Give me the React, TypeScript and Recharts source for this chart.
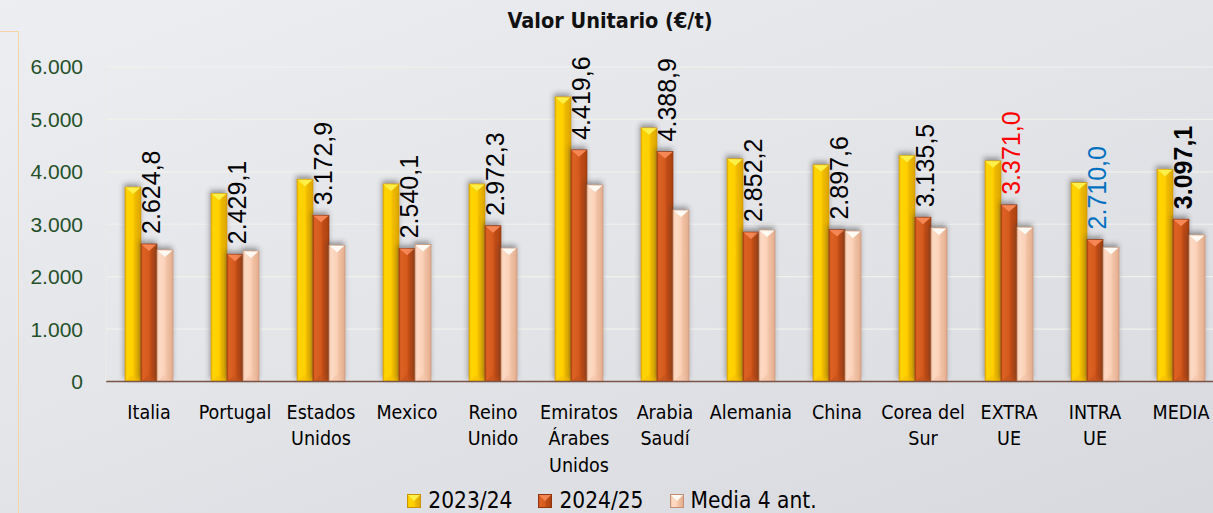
import { BarChart, Bar, XAxis, YAxis, CartesianGrid, Legend, LabelList } from "recharts";

const categories = [
  "Italia",
  "Portugal",
  "Estados Unidos",
  "Mexico",
  "Reino Unido",
  "Emiratos Árabes Unidos",
  "Arabia Saudí",
  "Alemania",
  "China",
  "Corea del Sur",
  "EXTRA UE",
  "INTRA UE",
  "MEDIA",
];
const tickLabels = [
  ["Italia"],
  ["Portugal"],
  ["Estados", "Unidos"],
  ["Mexico"],
  ["Reino", "Unido"],
  ["Emiratos", "Árabes", "Unidos"],
  ["Arabia", "Saudí"],
  ["Alemania"],
  ["China"],
  ["Corea del", "Sur"],
  ["EXTRA", "UE"],
  ["INTRA", "UE"],
  ["MEDIA"],
];
const v2324 = [3710, 3590, 3860, 3770, 3770, 5430, 4840, 4250, 4135, 4315, 4210, 3795, 4050];
const v2425 = [2624.8, 2429.1, 3172.9, 2540.1, 2972.3, 4419.6, 4388.9, 2852.2, 2897.6, 3135.5, 3371.0, 2710.0, 3097.1];
const vMedia4 = [2510, 2490, 2600, 2615, 2545, 3750, 3270, 2890, 2870, 2930, 2945, 2560, 2795];
const yTicks = [0, 1000, 2000, 3000, 4000, 5000, 6000];
const seriesNames = ["2023/24", "2024/25", "Media 4 ant."];

const data = categories.map((name, i) => ({
  name,
  a: v2324[i],
  b: v2425[i],
  c: vMedia4[i],
}));

// label colours for the highlighted categories
const labelColor: Record<string, string> = { "EXTRA UE": "#ff0000", "INTRA UE": "#0070c0" };
const labelBold: Record<string, boolean> = { MEDIA: true };

const palette = [
  { id: "gold", top: "#fff04a", bottom: "#f5c000", edge: "#c99400" },
  { id: "rust", top: "#f58654", bottom: "#c4501a", edge: "#8e3510" },
  { id: "peach", top: "#fffaf4", bottom: "#f3c2a6", edge: "#c18f74" },
];

function fmtEs(v: number, dec: number) {
  const [i, d] = v.toFixed(dec).split(".");
  const int = i.replace(/\B(?=(\d{3})+(?!\d))/g, ".");
  return d ? `${int},${d}` : int;
}

const makeShape = (k: number) => (props: any) => {
  const { x, y, width, height } = props;
  if (!height || height <= 0) return <g />;
  const p = palette[k];
  const t = Math.min(width / 2, 7);
  return (
    <g filter="url(#barShadow)">
      <rect x={x} y={y} width={width} height={height} fill={`url(#grad-${p.id})`} stroke={p.edge} strokeWidth={0.6} />
      <polygon points={`${x + 0.5},${y + 0.5} ${x + width - 0.5},${y + 0.5} ${x + width / 2},${y + t}`} fill={p.top} />
      <polygon
        points={`${x + 0.5},${y + height} ${x + width - 0.5},${y + height} ${x + width / 2},${y + height - t}`}
        fill={p.bottom}
        opacity={0.6}
      />
    </g>
  );
};

const RotLabel = (props: any) => {
  const { x, y, width, value, index } = props;
  const name = categories[index];
  const cx = x + width / 2 + 2;
  const cy = y - 10;
  return (
    <text
      x={cx}
      y={cy}
      transform={`rotate(-90, ${cx}, ${cy})`}
      textAnchor="start"
      dominantBaseline="central"
      fontFamily="'Liberation Sans', Arial, sans-serif"
      fontSize={25}
      fontWeight={labelBold[name] ? 700 : 400}
      fill={labelColor[name] || "#000"}
    >
      {fmtEs(value, 1)}
    </text>
  );
};

const CatTick = (props: any) => {
  const { x, y, payload } = props;
  const lines = tickLabels[payload.index] || [payload.value];
  return (
    <text
      x={x}
      y={y + 37}
      textAnchor="middle"
      fontFamily="'DejaVu Sans Condensed', 'DejaVu Sans', sans-serif"
      fontSize={19.5}
      fill="#000"
    >
      {lines.map((l: string, i: number) => (
        <tspan key={i} x={x} dy={i === 0 ? 0 : 26.5}>
          {l}
        </tspan>
      ))}
    </text>
  );
};

const LegendBox = () => (
  <div
    style={{
      height: 26,
      lineHeight: "26px",
      display: "flex",
      justifyContent: "center",
      alignItems: "center",
      gap: 26,
      fontFamily: "'DejaVu Sans Condensed', 'DejaVu Sans', sans-serif",
      fontSize: 22.5,
      color: "#000",
    }}
  >
    {seriesNames.map((s, i) => (
      <span key={s} style={{ display: "flex", alignItems: "center" }}>
        <svg width={14} height={14} style={{ marginRight: 7, marginTop: 2 }}>
          <rect x={0.5} y={0.5} width={13} height={13} fill={`url(#grad-${palette[i].id})`} stroke={palette[i].edge} />
          <polygon points="1,1 13,1 7,7" fill={palette[i].top} />
        </svg>
        {s}
      </span>
    ))}
  </div>
);

export default function App() {
  return (
    <div
      style={{
        position: "fixed",
        left: 0,
        top: 0,
        width: 1213,
        height: 513,
        overflow: "hidden",
        background: "linear-gradient(160deg, #eceef1 0%, #e3e4e8 50%, #d8d9de 100%)",
      }}
    >
      <svg width={0} height={0} style={{ position: "absolute" }}>
        <defs>
          {palette.map((p) => (
            <linearGradient key={p.id} id={`grad-${p.id}`} x1="0" y1="0" x2="1" y2="0">
              {p.id === "gold" && (
                <>
                  <stop offset="0%" stopColor="#e9b200" />
                  <stop offset="12%" stopColor="#ffd500" />
                  <stop offset="50%" stopColor="#ffcf00" />
                  <stop offset="60%" stopColor="#f1bd00" />
                  <stop offset="100%" stopColor="#dca500" />
                </>
              )}
              {p.id === "rust" && (
                <>
                  <stop offset="0%" stopColor="#b9481a" />
                  <stop offset="12%" stopColor="#dd6224" />
                  <stop offset="50%" stopColor="#d45a1d" />
                  <stop offset="60%" stopColor="#c24d17" />
                  <stop offset="100%" stopColor="#a9410f" />
                </>
              )}
              {p.id === "peach" && (
                <>
                  <stop offset="0%" stopColor="#e8b496" />
                  <stop offset="12%" stopColor="#fddac5" />
                  <stop offset="50%" stopColor="#fbd1b8" />
                  <stop offset="60%" stopColor="#f3c3a6" />
                  <stop offset="100%" stopColor="#e2ac8d" />
                </>
              )}
            </linearGradient>
          ))}
          <filter id="barShadow" x="-50%" y="-10%" width="200%" height="120%">
            <feDropShadow dx={-1} dy={-3} stdDeviation={2.5} floodColor="#333" floodOpacity={0.45} />
          </filter>
        </defs>
      </svg>

      <div
        style={{
          position: "absolute",
          left: 0,
          top: 31,
          width: 18,
          height: 490,
          borderTop: "1.5px solid #f5d5a5",
          borderRight: "1.5px solid #f5d5a5",
        }}
      />

      <div
        style={{
          position: "absolute",
          left: 0,
          top: 8,
          width: 1220,
          textAlign: "center",
          fontFamily: "'DejaVu Sans Condensed', 'DejaVu Sans', sans-serif",
          fontWeight: 700,
          fontSize: 21.5,
          color: "#111",
        }}
      >
        Valor Unitario (€/t)
      </div>

      <div style={{ position: "absolute", left: 0, top: 0 }}>
        <BarChart
          width={1232}
          height={513}
          data={data}
          margin={{ top: 67, right: 8, left: 0, bottom: 0 }}
          barSize={16}
          barGap={0}
        >
          <CartesianGrid vertical={false} stroke="#f1f1ec" strokeWidth={1.2} />
          <XAxis
            dataKey="name"
            interval={0}
            height={105.5}
            tickLine={false}
            tickSize={0}
            tickMargin={0}
            axisLine={{ stroke: "#7a5446", strokeWidth: 1.5 }}
            tick={<CatTick />}
          />
          <YAxis
            width={106}
            domain={[0, 6000]}
            ticks={yTicks}
            tickLine={false}
            tickSize={0}
            tickMargin={23}
            axisLine={{ stroke: "#ebebe6" }}
            tickFormatter={(v: number) => fmtEs(v, 0)}
            tick={{ fill: "#24502a", fontSize: 21, fontFamily: "'Liberation Sans', Arial, sans-serif" }}
          />
          <Legend verticalAlign="bottom" content={<LegendBox />} />
          <Bar dataKey="a" name={seriesNames[0]} isAnimationActive={false} shape={makeShape(0)} />
          <Bar dataKey="b" name={seriesNames[1]} isAnimationActive={false} shape={makeShape(1)}>
            <LabelList dataKey="b" content={<RotLabel />} />
          </Bar>
          <Bar dataKey="c" name={seriesNames[2]} isAnimationActive={false} shape={makeShape(2)} />
        </BarChart>
      </div>
    </div>
  );
}
